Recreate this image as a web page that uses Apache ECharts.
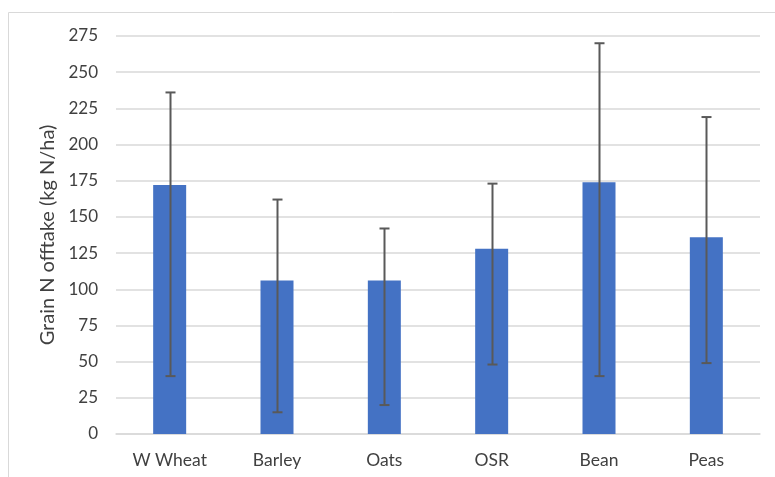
<!DOCTYPE html>
<html><head><meta charset="utf-8">
<script src="https://cdn.jsdelivr.net/npm/echarts@6/dist/echarts.min.js"></script>
<style>html,body{margin:0;padding:0;background:#fff}#c{width:775px;height:477px}</style>
</head><body><div id="c"></div>
<script>
var categories = ['W Wheat','Barley','Oats','OSR','Bean','Peas'];
var means = [172, 106, 106, 128, 174, 136];
var errLow = [40, 15, 20, 48, 40, 49];
var errHigh = [236, 162, 142, 173, 270, 219];
var yTicks = {min:0, max:275, interval:25};

var chart = echarts.init(document.getElementById('c'));
var font = 'Lato, "Open Sans", sans-serif';
chart.setOption({
  animation:false,
  grid:{left:116, right:15, top:36, bottom:43},
  graphic:[{type:'rect', shape:{x:8.5,y:12.5,width:800,height:500}, style:{fill:'none', stroke:'#d9d9d9', lineWidth:1}, z:-10}],
  xAxis:{type:'category', data:categories,
    axisLine:{lineStyle:{color:'#d9d9d9', width:1.5}}, axisTick:{show:false},
    axisLabel:{color:'#404040', fontSize:17.5, fontFamily:font, margin:17}},
  yAxis:{type:'value', min:yTicks.min, max:yTicks.max, interval:yTicks.interval,
    name:'Grain N offtake (kg N/ha)', nameLocation:'middle', nameGap:56,
    nameTextStyle:{color:'#404040', fontSize:20, fontFamily:font},
    axisLine:{show:false}, axisTick:{show:false},
    axisLabel:{color:'#404040', fontSize:17, fontFamily:font, margin:18},
    splitLine:{lineStyle:{color:'#d9d9d9', width:1.5}}},
  series:[
    {type:'bar', data:means, barWidth:33, itemStyle:{color:'#4472c4'}},
    {type:'custom', data:categories.map(function(c,i){return [i, errLow[i], errHigh[i]];}),
      renderItem:function(params, api){
        var lo = api.coord([api.value(0), api.value(1)]);
        var hi = api.coord([api.value(0), api.value(2)]);
        var x = Math.round(lo[0]) + 0.5;
        var cap = 5;
        var st = {stroke:'#595959', lineWidth:2};
        return {type:'group', children:[
          {type:'line', shape:{x1:x, y1:hi[1], x2:x, y2:lo[1]}, style:st},
          {type:'line', shape:{x1:x-cap, y1:hi[1], x2:x+cap, y2:hi[1]}, style:st},
          {type:'line', shape:{x1:x-cap, y1:lo[1], x2:x+cap, y2:lo[1]}, style:st}
        ]};
      }, z:5}
  ]
});
</script></body></html>
